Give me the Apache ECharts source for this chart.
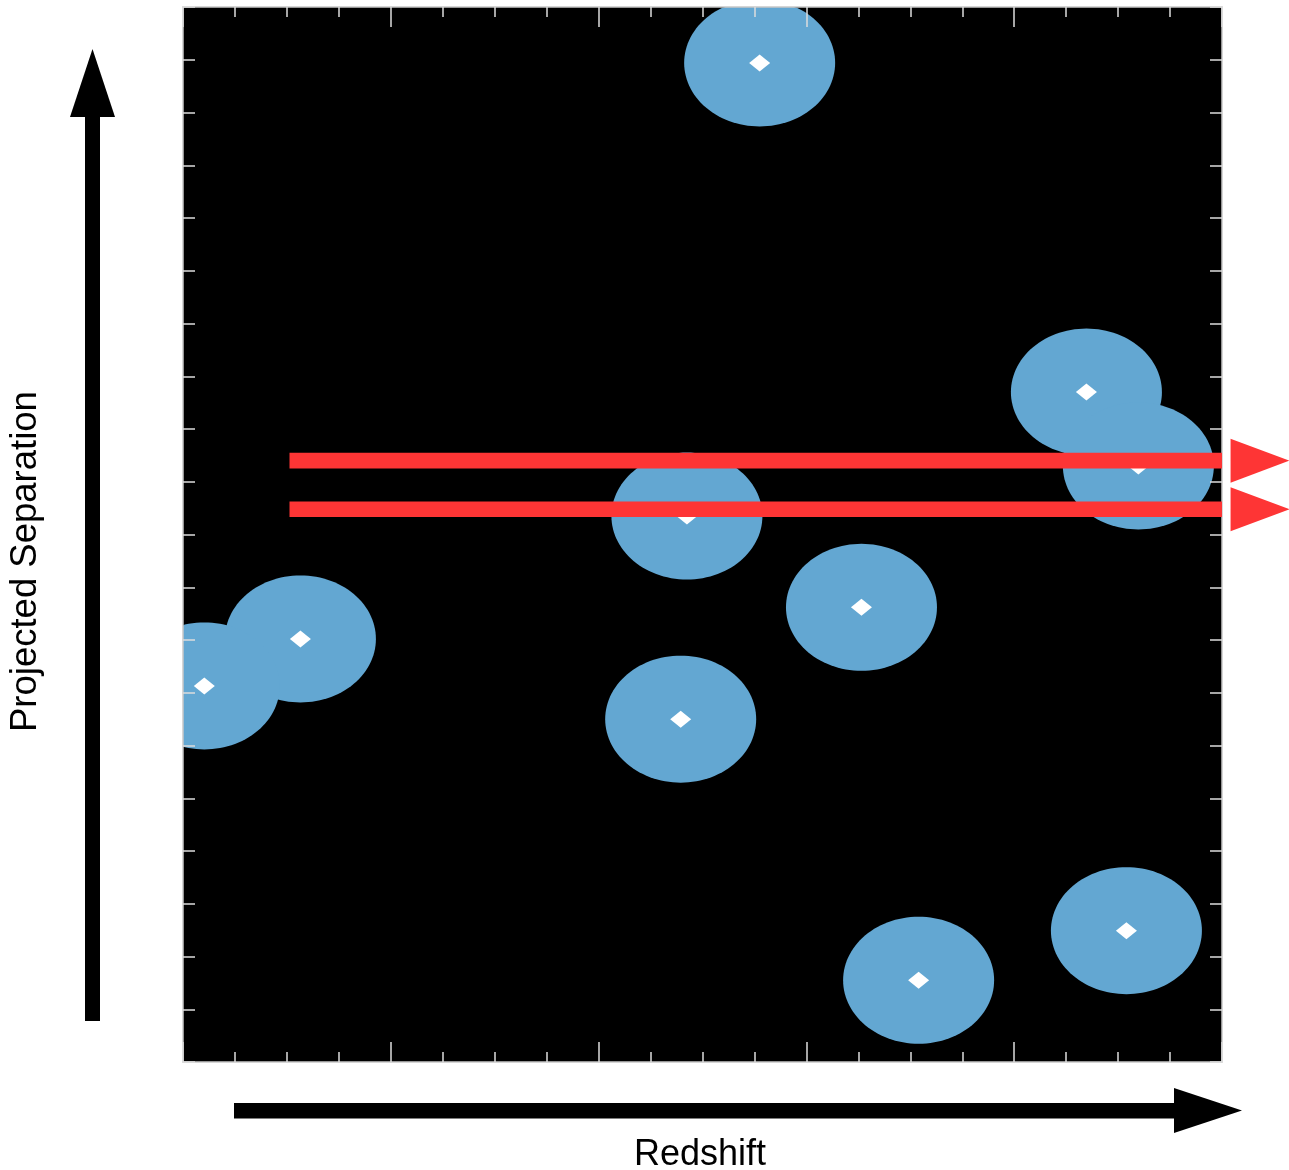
<!DOCTYPE html>
<html>
<head>
<meta charset="utf-8">
<script src="https://cdn.jsdelivr.net/npm/echarts@6/dist/echarts.min.js"></script>
<style>
html,body{margin:0;padding:0;background:#fff;}
#chart{width:1289px;height:1170px;}
</style>
</head>
<body>
<div id="chart"></div>
<script>
// Galaxy positions (redshift, projected separation) in axis units
const galaxyX = [11.10, 17.39, 18.39, 9.70, 13.06, 2.26, 0.41, 9.58, 14.16, 18.16];
const galaxyY = [18.94, 12.70, 11.30, 10.35, 8.62, 8.02, 7.13, 6.50, 1.55, 2.49];
// Red sight-line arrows: start x, tip x, y
const arrowStartX = [2.05, 2.05];
const arrowTipX = [21.3, 21.3];
const arrowY = [11.40, 10.48];
// Axis ranges
const xMin = 0, xMax = 20, xMajor = 4;
const yMin = 0, yMax = 20, yStep = 1;

const galaxies = galaxyX.map((x, i) => [x, galaxyY[i]]);
const arrows = arrowStartX.map((x, i) => [x, arrowTipX[i], arrowY[i]]);

const RX = 75.5, RY = 63.5;
const axisColor = '#c8c8c8';

function xAxisCfg(pos) {
  return {
    type: 'value', position: pos, min: xMin, max: xMax, interval: xMajor, z: 5,
    axisLine: {show: true, onZero: false, lineStyle: {color: axisColor, width: 1.5}},
    axisTick: {show: true, inside: true, length: 20, lineStyle: {color: '#dddddd', width: 1.5}},
    minorTick: {show: true, splitNumber: 4, length: 10, lineStyle: {color: '#dddddd', width: 1.5}},
    axisLabel: {show: false}, splitLine: {show: false}, minorSplitLine: {show: false}
  };
}
function yAxisCfg(pos) {
  return {
    type: 'value', position: pos, min: yMin, max: yMax, interval: yStep, z: 5,
    axisLine: {show: true, onZero: false, lineStyle: {color: axisColor, width: 1.5}},
    axisTick: {show: true, inside: true, length: 12, lineStyle: {color: '#dddddd', width: 1.5}},
    axisLabel: {show: false}, splitLine: {show: false}
  };
}

const chart = echarts.init(document.getElementById('chart'), null, {renderer: 'canvas'});
chart.setOption({
  animation: false,
  backgroundColor: '#ffffff',
  grid: {left: 183, top: 7, right: 67, bottom: 108, show: true, backgroundColor: '#000000', borderWidth: 0},
  xAxis: [xAxisCfg('bottom'), xAxisCfg('top')],
  yAxis: [yAxisCfg('left'), yAxisCfg('right')],
  graphic: [
    // vertical axis arrow
    {type: 'rect', shape: {x: 85, y: 116, width: 15, height: 905}, style: {fill: '#000'}},
    {type: 'polygon', shape: {points: [[70, 117], [92.5, 49], [115, 117]]}, style: {fill: '#000'}},
    // horizontal axis arrow
    {type: 'rect', shape: {x: 234, y: 1103, width: 941, height: 15.5}, style: {fill: '#000'}},
    {type: 'polygon', shape: {points: [[1174, 1088], [1242, 1110.5], [1174, 1133]]}, style: {fill: '#000'}},
    {type: 'text', left: 634, top: 1137, style: {text: 'Redshift', font: '36px "Liberation Sans", Arial, sans-serif', fill: '#000'}},
    {type: 'text', x: 7, y: 732, rotation: Math.PI / 2,
     style: {text: 'Projected Separation', font: '36.5px "Liberation Sans", Arial, sans-serif', fill: '#000', textAlign: 'left', textVerticalAlign: 'top'}}
  ],
  series: [
    {
      type: 'custom', name: 'halo', z: 2,
      data: galaxies,
      renderItem: function (params, api) {
        const c = api.coord([api.value(0), api.value(1)]);
        const cs = params.coordSys;
        const pts = [];
        const N = 120;
        for (let i = 0; i < N; i++) {
          const a = i / N * Math.PI * 2;
          let px = c[0] + RX * Math.cos(a);
          let py = c[1] + RY * Math.sin(a);
          px = Math.min(Math.max(px, cs.x), cs.x + cs.width);
          py = Math.min(Math.max(py, cs.y), cs.y + cs.height);
          pts.push([px, py]);
        }
        return {type: 'polygon', shape: {points: pts}, style: {fill: '#63a7d2'}};
      }
    },
    {
      type: 'scatter', name: 'galaxy', z: 3,
      data: galaxies, symbol: 'diamond', symbolSize: [21, 17],
      itemStyle: {color: '#ffffff', opacity: 1}
    },
    {
      type: 'custom', name: 'sightline', z: 10,
      data: arrows,
      renderItem: function (params, api) {
        const s = api.coord([api.value(0), api.value(2)]);
        const t = api.coord([api.value(1), api.value(2)]);
        const cs = params.coordSys;
        const right = cs.x + cs.width;
        return {
          type: 'group',
          children: [
            {type: 'rect', shape: {x: s[0], y: s[1] - 7.8, width: right - s[0], height: 15.6}, style: {fill: '#fe3535'}},
            {type: 'polygon', shape: {points: [[t[0] - 59, s[1] - 22], [t[0], s[1]], [t[0] - 59, s[1] + 22]]}, style: {fill: '#fe3535'}}
          ]
        };
      }
    }
  ]
});
</script>
</body>
</html>
